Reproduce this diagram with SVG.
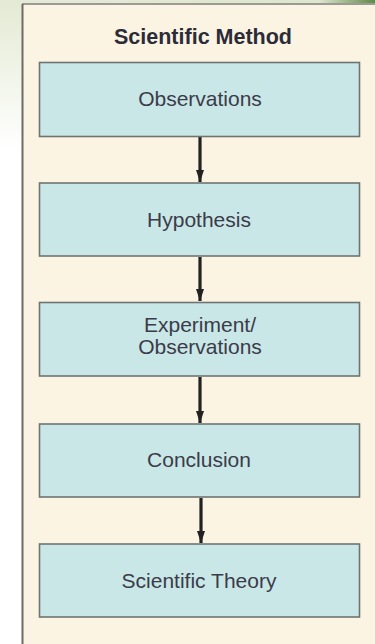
<svg xmlns="http://www.w3.org/2000/svg" width="375" height="644" viewBox="0 0 375 644">
<defs>
<linearGradient id="side" x1="0" y1="0" x2="0" y2="1">
<stop offset="0" stop-color="#e3ead3"/>
<stop offset="1" stop-color="#ffffff"/>
</linearGradient>
<linearGradient id="topband" x1="0" y1="0" x2="1" y2="0">
<stop offset="0" stop-color="#e4ead6"/>
<stop offset="0.85" stop-color="#dfe6cf"/>
<stop offset="1" stop-color="#5f8a4a"/>
</linearGradient>
<marker id="ah" viewBox="0 0 12 8" refX="12" refY="4" markerWidth="12" markerHeight="8" markerUnits="userSpaceOnUse" orient="auto">
<path d="M0,0 L12,4 L0,8 Z" fill="#222"/>
</marker>
</defs>
<style>
.box{fill:#c9e7e6;stroke:#6f7472;stroke-width:1.6}
.lbl{font-family:"Liberation Sans",Arial,sans-serif;font-size:21px;fill:#3b3b4a;text-anchor:middle}
.title{font-family:"Liberation Sans",Arial,sans-serif;font-size:21.5px;font-weight:bold;fill:#2c2c38;text-anchor:middle}
.conn{stroke:#222;stroke-width:3.2;fill:none}
</style>
<rect x="0" y="0" width="375" height="644" fill="#ffffff"/>
<rect x="0" y="0" width="22" height="150" fill="url(#side)"/>
<rect x="0" y="0" width="375" height="4" fill="url(#topband)"/>
<rect x="22" y="4" width="353" height="640" fill="#fcf4e3"/>
<line x1="22" y1="4" x2="375" y2="4" stroke="#9d9a94" stroke-width="2"/>
<line x1="22.5" y1="4" x2="22.5" y2="644" stroke="#6e6a64" stroke-width="2"/>

<text id="title" class="title" x="203" y="44">Scientific Method</text>

<g id="connectors">
<line class="conn" x1="200" y1="137" x2="200" y2="182" marker-end="url(#ah)"/>
<line class="conn" x1="200" y1="257" x2="200" y2="301" marker-end="url(#ah)"/>
<line class="conn" x1="200" y1="377" x2="200" y2="423" marker-end="url(#ah)"/>
<line class="conn" x1="201" y1="498" x2="201" y2="543" marker-end="url(#ah)"/>
</g>

<g id="observations">
<rect class="box" x="39.5" y="62.5" width="320" height="74"/>
<text class="lbl" x="200" y="106">Observations</text>
</g>
<g id="hypothesis">
<rect class="box" x="39.5" y="183" width="320" height="73"/>
<text class="lbl" x="199" y="227">Hypothesis</text>
</g>
<g id="experiment">
<rect class="box" x="39.5" y="302.5" width="320" height="73.5"/>
<text class="lbl" x="200" y="332">Experiment/</text>
<text class="lbl" x="200" y="354">Observations</text>
</g>
<g id="conclusion">
<rect class="box" x="39.5" y="424" width="320" height="73"/>
<text class="lbl" x="199" y="467">Conclusion</text>
</g>
<g id="theory">
<rect class="box" x="39.5" y="544" width="320" height="73"/>
<text class="lbl" x="199" y="588">Scientific Theory</text>
</g>
</svg>
